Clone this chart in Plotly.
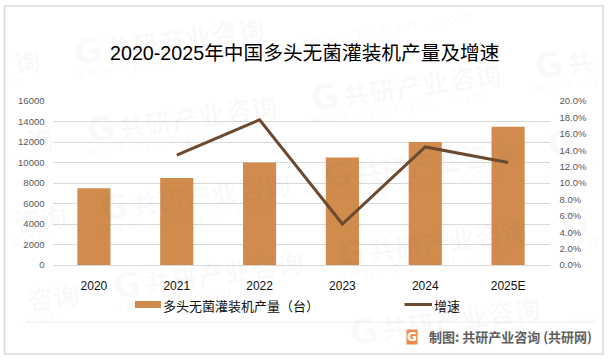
import math
import plotly.graph_objects as go

categories = ["2020", "2021", "2022", "2023", "2024", "2025E"]
output_units = [7500, 8500, 10000, 10500, 12000, 13500]
growth_pct = [None, 13.4, 17.7, 5.0, 14.4, 12.5]
title_text = "2020-2025年中国多头无菌灌装机产量及增速"
bar_name = "多头无菌灌装机产量（台）"
line_name = "增速"
source_text = "制图: 共研产业咨询 (共研网)"
wm_cn = "G共研产业咨询"
wm_url = "www.gonyn.com"

W, H = 610, 358
CN = "Liberation Sans, Noto Sans CJK SC, sans-serif"
px = lambda x: x / W
py = lambda y: 1 - y / H
WM = "rgba(80,80,80,0.042)"

fig = go.Figure()
fig.add_bar(x=categories, y=output_units, name=bar_name, marker=dict(color="#D18B4D", line_width=0),
            width=0.4, yaxis="y", showlegend=False)
fig.add_scatter(x=categories, y=growth_pct, name=line_name, mode="lines", yaxis="y2",
                line=dict(color="#6B4A2F", width=3), connectgaps=False, showlegend=False)

ann = []
slope = math.tan(math.radians(8))


def put_char(ch, x, y, size, family):
    m = size * 0.75
    if x - m < 0 or x + m > W or y - m < 0 or y + m > H:
        return
    ann.append(dict(x=px(x), y=py(y), xref="paper", yref="paper", text=f"<b>{ch}</b>" if size > 20 else ch,
                    showarrow=False, textangle=-8, font=dict(size=size, color=WM, family=family),
                    xanchor="center", yanchor="middle"))


for i in range(-2, 4):
    for j in range(-2, 6):
        cx = 160 + 224 * i + 13 * j
        cy = 41 - 32 * i + 78 * j
        for k, ch in enumerate(wm_cn):
            dx = -72 + 26.5 * k + (4 if k else 0)
            if k == 0:
                put_char(ch, cx + dx, cy - dx * slope, 34, "DejaVu Sans")
            else:
                put_char(ch, cx + dx, cy - dx * slope, 26, "Noto Sans CJK SC")
        for k, ch in enumerate(wm_url):
            dx = -82 + 13.7 * k
            put_char(ch, cx + dx, cy + 20 - dx * slope, 14, "DejaVu Sans")

ann.append(dict(x=px(304), y=py(53), xref="paper", yref="paper", text=title_text, showarrow=False,
                font=dict(size=19.7, color="#000000", family=CN), xanchor="center", yanchor="middle"))
ann.append(dict(x=px(161), y=py(305), xref="paper", yref="paper", text=bar_name, showarrow=False,
                font=dict(size=13, color="#111111", family="Noto Sans CJK SC"), xanchor="left", yanchor="middle"))
ann.append(dict(x=px(432), y=py(305), xref="paper", yref="paper", text=line_name, showarrow=False,
                font=dict(size=13, color="#111111", family="Noto Sans CJK SC"), xanchor="left", yanchor="middle"))
ann.append(dict(x=px(594), y=py(336), xref="paper", yref="paper", text=f"<b>{source_text}</b>", showarrow=False,
                font=dict(size=13, color="#606060", family="Noto Sans CJK SC"), xanchor="right", yanchor="middle"))
ann.append(dict(x=px(411.5), y=py(336.5), xref="paper", yref="paper", text="<b>G</b>", showarrow=False,
                font=dict(size=12, color="#FFFFFF", family="DejaVu Sans"), bgcolor="#F08A4B",
                xanchor="center", yanchor="middle", borderpad=0))

shapes = [
    dict(type="rect", xref="paper", yref="paper", x0=px(4.5), x1=px(603), y0=py(6), y1=py(354),
         line=dict(color="#D9D9D9", width=1.5), fillcolor="rgba(0,0,0,0)", layer="above"),
    dict(type="line", xref="paper", yref="paper", x0=px(26), x1=px(593), y0=py(322), y1=py(322),
         line=dict(color="#EEEEEE", width=1), layer="below"),
    dict(type="rect", xref="paper", yref="paper", x0=px(135), x1=px(161), y0=py(301), y1=py(308),
         line_width=0, fillcolor="#D18B4D"),
    dict(type="line", xref="paper", yref="paper", x0=px(404.5), x1=px(432), y0=py(304.5), y1=py(304.5),
         line=dict(color="#6B4A2F", width=3)),
]

fig.update_layout(
    width=W, height=H, autosize=False,
    margin=dict(l=0, r=0, t=0, b=0, autoexpand=False),
    paper_bgcolor="#FFFFFF", plot_bgcolor="rgba(0,0,0,0)",
    showlegend=False,
    annotations=ann, shapes=shapes,
    xaxis=dict(domain=[px(52.5), px(549.5)], type="category", categoryorder="array", categoryarray=categories,
               range=[-0.5, 5.5], showgrid=False, showline=True, linecolor="#D9D9D9", linewidth=1, ticks="",
               automargin=False,
               tickfont=dict(size=12, color="#111111", family="Liberation Sans"), ticklabelstandoff=10),
    yaxis=dict(domain=[py(265), py(101)], range=[0, 16000], dtick=2000, showgrid=True, gridcolor="#D9D9D9",
               gridwidth=1, zeroline=False, showline=False, ticks="", tickformat="d", automargin=False,
               tickfont=dict(size=9.5, color="#595959", family="Liberation Sans"), ticklabelstandoff=7),
    yaxis2=dict(domain=[py(265), py(101)], range=[0, 20], dtick=2, overlaying="y", side="right", showgrid=False,
                zeroline=False, showline=False, ticks="", ticksuffix="%", tickformat=".1f", automargin=False,
                tickfont=dict(size=9.5, color="#595959", family="Liberation Sans"), ticklabelstandoff=9),
)
fig.write_html("out.html", config={"displayModeBar": False},
               post_script="document.body.style.margin='0';document.body.style.overflow='hidden';")
